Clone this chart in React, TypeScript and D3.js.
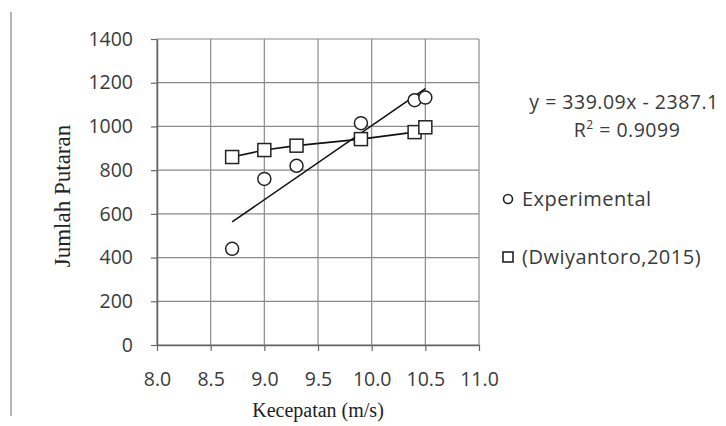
import React, { useEffect, useRef } from 'react';
import * as d3 from 'd3';

// data
const kecepatan = [8.7, 9.0, 9.3, 9.9, 10.4, 10.5];
const experimental = [440, 760, 820, 1015, 1120, 1132];
const dwiyantoro = [860, 892, 912, 942, 974, 996];
const xTicks = [8.0, 8.5, 9.0, 9.5, 10.0, 10.5, 11.0];
const yTicks = [0, 200, 400, 600, 800, 1000, 1200, 1400];
const trendSlope = 339.09;
const trendIntercept = -2387.1;
const seriesNames = ['Experimental', '(Dwiyantoro,2015)'];

const App = () => {
    const ref = useRef(null);

    useEffect(() => {
        const svg = d3.select(ref.current);
        svg.selectAll('*').remove();

        const margin = { top: 39, left: 157 };
        const graphWidth = 322;
        const graphHeight = 306;
        const sans = '"Open Sans", "Liberation Sans", sans-serif';
        const serif = '"Liberation Serif", "Times New Roman", serif';
        const textColor = '#3a3a3a';

        // page border line on the left
        svg.append('line')
            .attr('x1', 11).attr('x2', 11)
            .attr('y1', 12).attr('y2', 416)
            .attr('stroke', '#b5b5b5').attr('stroke-width', 2);

        const graph = svg.append('g')
            .attr('transform', `translate(${margin.left}, ${margin.top})`);

        const x = d3.scaleLinear().domain([8, 11]).range([0, graphWidth]);
        const y = d3.scaleLinear().domain([0, 1400]).range([graphHeight, 0]);

        //grid
        graph.append('g').selectAll('line.gx').data(xTicks).enter().append('line')
            .attr('x1', d => x(d)).attr('x2', d => x(d))
            .attr('y1', 0).attr('y2', graphHeight)
            .attr('stroke', '#8a8a8a').attr('stroke-width', 1.2);
        graph.append('g').selectAll('line.gy').data(yTicks).enter().append('line')
            .attr('x1', 0).attr('x2', graphWidth)
            .attr('y1', d => y(d)).attr('y2', d => y(d))
            .attr('stroke', '#8a8a8a').attr('stroke-width', 1.2);

        //axes
        const xAxis = d3.axisBottom(x).tickValues(xTicks).tickSize(6).tickSizeOuter(0)
            .tickFormat(d3.format('.1f'));
        const yAxis = d3.axisLeft(y).tickValues(yTicks).tickSize(6).tickSizeOuter(0)
            .tickFormat(d3.format('d'));

        const xAxisGroup = graph.append('g')
            .attr('transform', `translate(0, ${graphHeight})`)
            .call(xAxis);
        const yAxisGroup = graph.append('g').call(yAxis);

        [xAxisGroup, yAxisGroup].forEach(g => {
            g.select('.domain').attr('stroke', '#666').attr('stroke-width', 1.5);
            g.selectAll('.tick line').attr('stroke', '#666').attr('stroke-width', 1.2);
            g.selectAll('text')
                .attr('fill', textColor)
                .style('font-family', sans)
                .style('font-size', '19.5px');
        });
        xAxisGroup.selectAll('text').attr('y', 27);
        yAxisGroup.selectAll('text').attr('x', -24);

        // trendline of experimental
        const xmin = d3.min(kecepatan), xmax = d3.max(kecepatan);
        graph.append('line')
            .attr('x1', x(xmin)).attr('y1', y(trendSlope * xmin + trendIntercept))
            .attr('x2', x(xmax)).attr('y2', y(trendSlope * xmax + trendIntercept))
            .attr('stroke', '#111').attr('stroke-width', 1.6);

        // dwiyantoro line + squares
        const line = d3.line()
            .x((d, i) => x(kecepatan[i]))
            .y(d => y(d));
        graph.append('path')
            .datum(dwiyantoro)
            .attr('d', line)
            .attr('fill', 'none')
            .attr('stroke', '#111').attr('stroke-width', 1.6);

        const sq = 13;
        graph.selectAll('rect.sq').data(dwiyantoro).enter().append('rect')
            .attr('x', (d, i) => x(kecepatan[i]) - sq / 2)
            .attr('y', d => y(d) - sq / 2)
            .attr('width', sq).attr('height', sq)
            .attr('fill', 'white')
            .attr('stroke', '#222').attr('stroke-width', 1.5);

        graph.selectAll('circle.exp').data(experimental).enter().append('circle')
            .attr('cx', (d, i) => x(kecepatan[i]))
            .attr('cy', d => y(d))
            .attr('r', 6.5)
            .attr('fill', 'white')
            .attr('stroke', '#222').attr('stroke-width', 1.5);

        // axis titles
        svg.append('text')
            .attr('x', margin.left + graphWidth / 2).attr('y', 417)
            .attr('text-anchor', 'middle')
            .attr('fill', '#222')
            .style('font-family', serif).style('font-size', '20px')
            .text('Kecepatan (m/s)');
        svg.append('text')
            .attr('transform', `translate(70, 196) rotate(-90)`)
            .attr('text-anchor', 'middle')
            .attr('fill', '#222')
            .style('font-family', serif).style('font-size', '23px')
            .text('Jumlah Putaran');

        // equation
        const fmt = d3.format('.2f');
        svg.append('text')
            .attr('x', 624).attr('y', 109)
            .attr('text-anchor', 'middle')
            .attr('fill', textColor)
            .style('font-family', sans).style('font-size', '19.5px')
            .style('letter-spacing', '0.5px')
            .text(`y = ${fmt(trendSlope)}x - ${trendIntercept * -1}`);
        const r2 = svg.append('text')
            .attr('x', 627).attr('y', 137)
            .attr('text-anchor', 'middle')
            .attr('fill', textColor)
            .style('font-family', sans).style('font-size', '19.5px')
            .style('letter-spacing', '0.5px');
        r2.append('tspan').text('R');
        r2.append('tspan').attr('dy', -8).style('font-size', '12px').text('2');
        r2.append('tspan').attr('dy', 8).text(' = 0.9099');

        // legend
        const legend = svg.append('g').attr('transform', 'translate(508, 0)');
        legend.append('circle')
            .attr('cx', 0).attr('cy', 199).attr('r', 4.5)
            .attr('fill', 'white').attr('stroke', '#222').attr('stroke-width', 1.6);
        legend.append('rect')
            .attr('x', -5).attr('y', 252).attr('width', 10).attr('height', 10)
            .attr('fill', 'white').attr('stroke', '#222').attr('stroke-width', 1.6);
        legend.selectAll('text').data(seriesNames).enter().append('text')
            .attr('x', 14)
            .attr('y', (d, i) => 206 + i * 58)
            .attr('fill', textColor)
            .style('font-family', sans).style('font-size', '20px')
            .style('letter-spacing', '0.5px')
            .text(d => d);
    }, []);

    return (
        <svg ref={ref} width={726} height={426}
            style={{ position: 'absolute', left: 0, top: 0, background: 'white' }} />
    );
};

export default App;
